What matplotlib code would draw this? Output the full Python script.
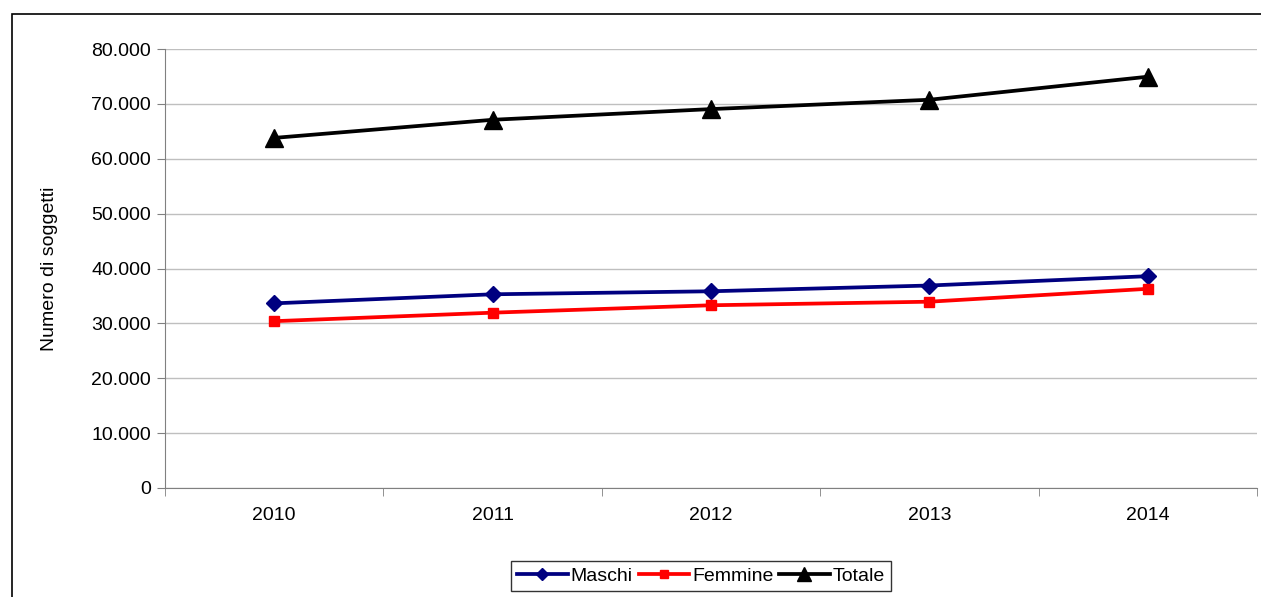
import matplotlib.pyplot as plt
from matplotlib.patches import Rectangle
from matplotlib.ticker import FuncFormatter, FixedLocator
import numpy as np

plt.rcParams['font.family'] = ['Liberation Sans', 'DejaVu Sans']

anni = ['2010', '2011', '2012', '2013', '2014']
maschi = [33650, 35300, 35850, 36900, 38600]
femmine = [30400, 31950, 33300, 33950, 36300]
totale = [63800, 67100, 69050, 70750, 74950]

W, H = 1261, 597
fig = plt.figure(figsize=(W / 100, H / 100), dpi=100)
ax = fig.add_axes([165 / W, 1 - 488 / H, (1257 - 165) / W, (488 - 49) / H])

# cornice esterna del grafico
fig.patches.append(Rectangle((12 / W, -0.1), 1.2, 1 - 14 / H + 0.1,
                             transform=fig.transFigure, fill=False,
                             edgecolor='black', linewidth=1.2))

x = np.arange(len(anni))
ax.plot(x, maschi, color='#000080', lw=2.7, marker='D', ms=8.5, label='Maschi')
ax.plot(x, femmine, color='#FF0000', lw=2.7, marker='s', ms=7, label='Femmine')
ax.plot(x, totale, color='black', lw=2.7, marker='^', ms=13, label='Totale')

ax.set_xlim(-0.5, len(anni) - 0.5)
ax.set_ylim(0, 80000)
ax.set_yticks(np.arange(0, 80001, 10000))
ax.yaxis.set_major_formatter(FuncFormatter(lambda v, p: f'{int(v):,}'.replace(',', '.')))
ax.grid(axis='y', color='#BFBFBF', lw=1)
ax.set_axisbelow(True)

ax.set_xticks(x)
ax.set_xticklabels(anni)
ax.xaxis.set_minor_locator(FixedLocator(np.arange(-0.5, len(anni), 1)))
ax.tick_params(axis='x', which='major', length=0, pad=14, labelsize=14)
ax.tick_params(axis='x', which='minor', length=6, color='#808080')
ax.tick_params(axis='y', length=6, color='#808080', labelsize=14, pad=4)

for s in ['top', 'right']:
    ax.spines[s].set_visible(False)
ax.spines['left'].set_color('#808080')
ax.spines['bottom'].set_color('#808080')

ax.set_ylabel('Numero di soggetti', fontsize=14, labelpad=24)

leg = fig.legend(loc='center', bbox_to_anchor=(701 / W, 1 - 576 / H), ncol=3,
                 fontsize=14, frameon=True, fancybox=False, edgecolor='black',
                 handlelength=2.6, handletextpad=0.15, columnspacing=0.3,
                 borderpad=0.3, borderaxespad=0, markerscale=0.75)
leg.get_frame().set_linewidth(1)

fig.savefig('out.png', dpi=100)
